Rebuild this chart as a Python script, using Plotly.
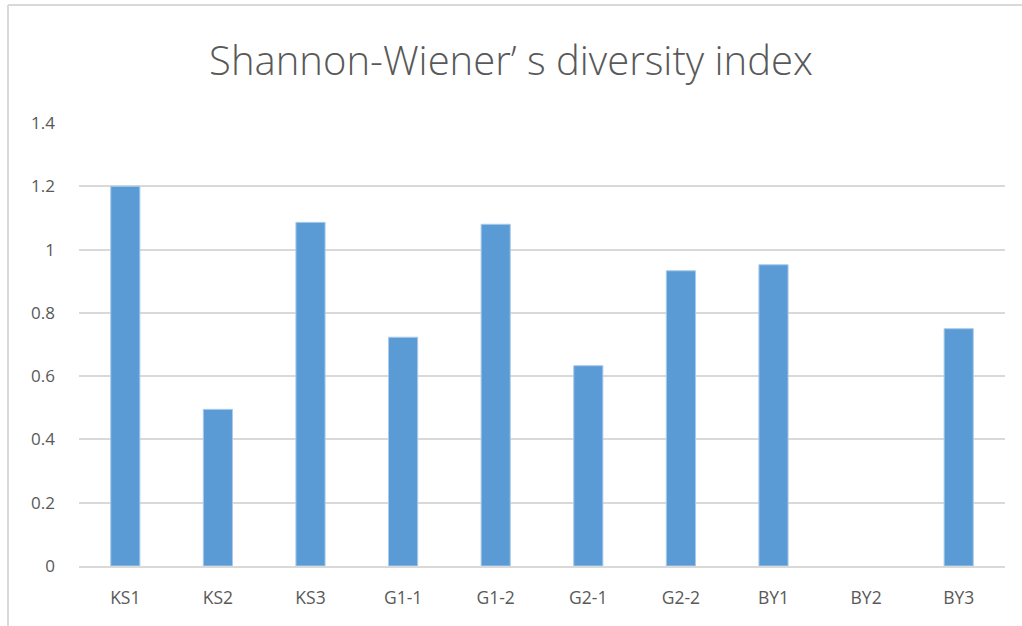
import plotly.graph_objects as go

categories = ["KS1", "KS2", "KS3", "G1-1", "G1-2", "G2-1", "G2-2", "BY1", "BY2", "BY3"]
values = [1.20, 0.495, 1.086, 0.723, 1.080, 0.633, 0.933, 0.952, 0.0, 0.750]
y_ticks = [0, 0.2, 0.4, 0.6, 0.8, 1, 1.2, 1.4]
y_ticktext = ["0", "0.2", "0.4", "0.6", "0.8", "1", "1.2", "1.4"]

W, H = 1022, 626
ML, MR, MT, MB = 79, 17, 123, 60

fig = go.Figure(go.Bar(
    x=categories, y=values,
    marker=dict(color="#5B9BD5",
                line=dict(color="#A9CBEA", width=[1 if v > 0 else 0 for v in values])),
    hoverinfo="skip",
))

fig.update_layout(
    width=W, height=H,
    margin=dict(l=ML, r=MR, t=MT, b=MB),
    paper_bgcolor="white", plot_bgcolor="white",
    bargap=0.685,
    showlegend=False,
    font=dict(family="Open Sans, Noto Sans CJK SC, sans-serif", color="#595959"),
    title=dict(
        text="Shannon-Wiener’ s diversity index",
        x=0.5, xref="container", xanchor="center",
        y=1 - 61 / H, yref="container", yanchor="middle",
        font=dict(family="Open Sans, Noto Sans CJK SC, sans-serif", size=40, color="#595959", weight=300),
    ),
    xaxis=dict(
        showgrid=False, showline=True, linecolor="#D9D9D9", linewidth=1.5,
        ticks="", tickfont=dict(size=17.5, color="#595959"),
        ticklabelstandoff=15,
    ),
    yaxis=dict(
        range=[0, 1.4], tickvals=y_ticks, ticktext=y_ticktext,
        showgrid=True, gridcolor="#D9D9D9", gridwidth=1.5,
        zeroline=False, showline=False, ticks="",
        tickfont=dict(size=17, color="#595959"),
        ticklabelstandoff=23,
    ),
    shapes=[
        dict(type="line", xref="paper", yref="paper",
             x0=(8 - ML) / (W - ML - MR), x1=(W - ML) / (W - ML - MR),
             y0=(H - MB - 5) / (H - MT - MB), y1=(H - MB - 5) / (H - MT - MB),
             line=dict(color="#D9D9D9", width=2)),
        dict(type="line", xref="paper", yref="paper",
             x0=(8 - ML) / (W - ML - MR), x1=(8 - ML) / (W - ML - MR),
             y0=(H - MB - 5) / (H - MT - MB), y1=-MB / (H - MT - MB),
             line=dict(color="#D9D9D9", width=2)),
    ],
)

fig.write_html("out.html", config={"displayModeBar": False},
               post_script="document.body.style.margin='0px';")
